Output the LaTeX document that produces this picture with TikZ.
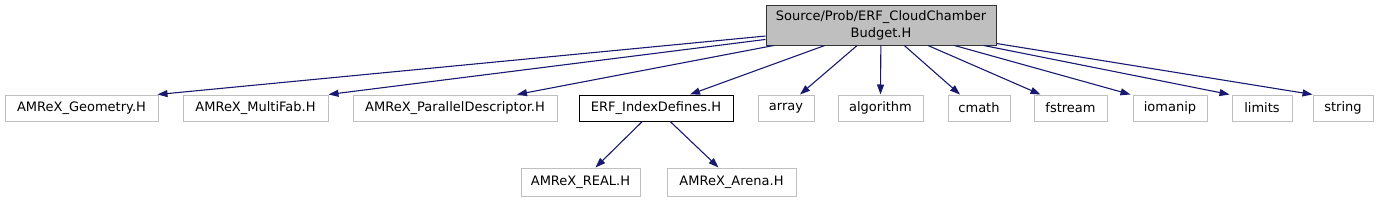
\documentclass[tikz,border=0pt]{standalone}
\usepackage{fontspec}
\setmainfont{DejaVu Sans}
\usetikzlibrary{arrows.meta,calc}
\definecolor{edgeblue}{HTML}{191970}
\definecolor{boxgray}{HTML}{BFBFBF}
\definecolor{txt}{HTML}{000000}
\tikzset{
  box/.style={draw=boxgray, line width=1pt, inner sep=0pt, minimum height=26pt, font=\fontsize{13}{17}\selectfont, text=txt},
  hbox/.style={box, draw=black},
  srcbox/.style={box, draw=black!80, fill=boxgray, align=center},
  arr/.style={draw=edgeblue, line width=1.1pt, -{Triangle[length=10pt,width=7pt]}, shorten >=0pt}
}
\begin{document}
\begin{tikzpicture}[x=1pt,y=-1pt]
\useasboundingbox (0,0) rectangle (1378,201);
\node[srcbox, minimum width=230pt, minimum height=40pt] (src) at (881,25) {Source/Prob/ERF\_CloudChamber\\Budget.H};
\node[box, minimum width=153pt] (geo) at (81.5,108) {AMReX\_Geometry.H};
\node[box, minimum width=145pt] (mf) at (255.5,108) {AMReX\_MultiFab.H};
\node[box, minimum width=204pt] (pd) at (455,108) {AMReX\_ParallelDescriptor.H};
\node[hbox, minimum width=154pt] (erf) at (656,108) {ERF\_IndexDefines.H};
\node[box, minimum width=56pt] (array) at (786,108) {array};
\node[box, minimum width=85pt] (alg) at (880.5,108) {algorithm};
\node[box, minimum width=62pt] (cmath) at (979,108) {cmath};
\node[box, minimum width=73pt] (fstream) at (1070.5,108) {fstream};
\node[box, minimum width=74pt] (iomanip) at (1170,108) {iomanip};
\node[box, minimum width=60pt] (limits) at (1262,108) {limits};
\node[box, minimum width=60pt] (string) at (1343,108) {string};
\node[box, minimum width=119pt, minimum height=28pt] (real) at (580.5,182) {AMReX\_REAL.H};
\node[box, minimum width=129pt, minimum height=28pt] (arena) at (731.5,182) {AMReX\_Arena.H};
\draw[arr] (src) -- ($(geo.north east)+(-1,0)$);
\draw[arr] (src) -- ($(mf.north east)+(0,0)$);
\draw[arr] (src) -- ($(pd.north)+(62,0)$);
\draw[arr] (src) -- ($(erf.north)+(34,0)$);
\draw[arr] (src) -- ($(array.north)+(14,0)$);
\draw[arr] (src) -- (alg.north);
\draw[arr] (src) -- ($(cmath.north)+(-19,0)$);
\draw[arr] (src) -- ($(fstream.north)+(-30,0)$);
\draw[arr] (src) -- ($(iomanip.north west)+(-2,0)$);
\draw[arr] (src) -- ($(limits.north west)+(-2,0)$);
\draw[arr] (src) -- ($(string.north west)+(0,0)$);
\draw[arr] (erf) -- ($(real.north)+(15,0)$);
\draw[arr] (erf) -- ($(arena.north)+(-13,0)$);
\end{tikzpicture}
\end{document}
